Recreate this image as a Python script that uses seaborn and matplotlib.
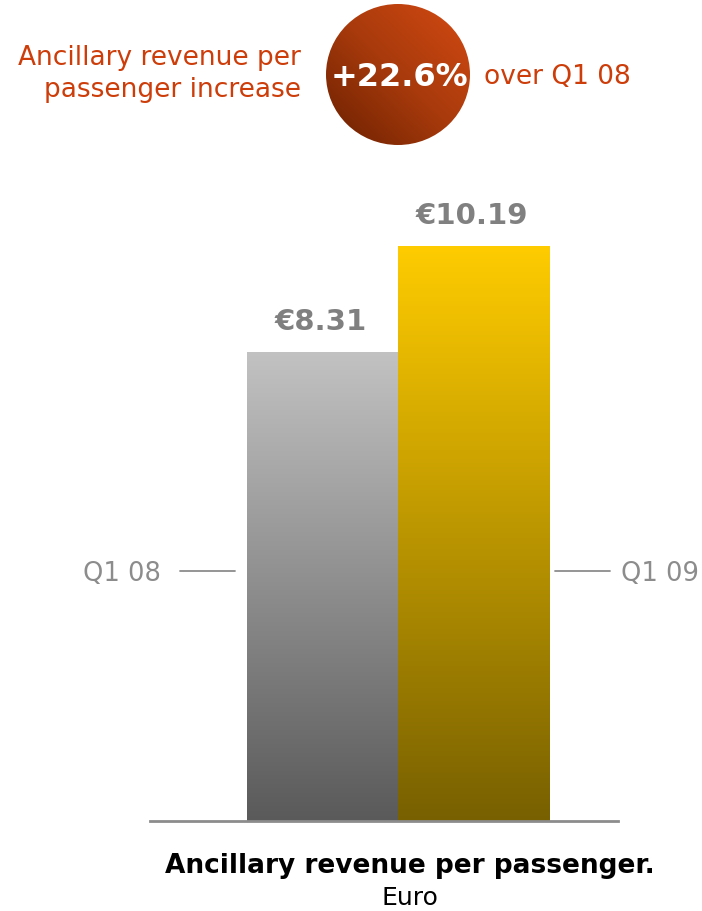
import numpy as np
import pandas as pd
import matplotlib
matplotlib.use("Agg")
import matplotlib.pyplot as plt
import seaborn as sns
from matplotlib.patches import Ellipse
from matplotlib.colors import LinearSegmentedColormap

categories = ["Q1 08", "Q1 09"]
values = [8.31, 10.19]
value_labels = ["€8.31", "€10.19"]
headline_left = "Ancillary revenue per\npassenger increase"
headline_value = "+22.6%"
headline_right = "over Q1 08"
chart_title = "Ancillary revenue per passenger."
chart_subtitle = "Euro"

sns.set_theme(style="white")
plt.rcParams['font.family'] = ['DejaVu Sans']

W, H = 702, 912
fig = plt.figure(figsize=(W / 100, H / 100), dpi=100)

def fx(px):
    return px / W

def fy(py):
    return 1 - py / H

# main axes: x 150..618, baseline at y=822, top at 201 (ylim 11)
ax = fig.add_axes([fx(150), fy(822), fx(618) - fx(150), (822 - 201) / H])
df = pd.DataFrame({"cat": categories, "val": values})
sns.barplot(data=df, x="cat", y="val", ax=ax, width=1.0, color="gray")
ax.set_xlim(-1.142, 1.957)
ax.set_ylim(0, 11)

grads = [("#c2c2c2", "#5a5a5a"), ("#ffcc00", "#786000")]
for patch, (ctop, cbot) in zip(ax.patches, grads):
    x0 = patch.get_x()
    w = patch.get_width()
    h = patch.get_height()
    cmap = LinearSegmentedColormap.from_list("g", [cbot, ctop])
    grad = np.linspace(0, 1, 256).reshape(-1, 1)
    im = ax.imshow(grad, extent=[x0, x0 + w, 0, h], origin="lower", cmap=cmap,
                   aspect="auto", zorder=2)
    im.set_clip_path(patch)
    patch.set_facecolor("none")
    patch.set_edgecolor("none")
ax.set_xlim(-1.142, 1.957)
ax.set_ylim(0, 11)

for i, (v, lab) in enumerate(zip(values, value_labels)):
    ax.text(i - 0.01, v + 0.3, lab, ha="center", va="bottom", fontsize=21,
            fontweight="bold", color="#808080")

for s in ["top", "left", "right"]:
    ax.spines[s].set_visible(False)
ax.spines["bottom"].set_color("#8c8c8c")
ax.spines["bottom"].set_linewidth(2)
ax.spines["bottom"].set_zorder(5)
ax.set_xticks([])
ax.set_yticks([])
ax.set_xlabel("")
ax.set_ylabel("")

# category labels with leader lines
lab_y = 574
fig.text(fx(161), fy(lab_y), categories[0], ha="right", va="center",
         fontsize=18.5, color="#8c8c8c")
fig.add_artist(plt.Line2D([fx(180), fx(235)], [fy(572), fy(572)],
                          color="#8c8c8c", lw=1.3))
fig.text(fx(621), fy(lab_y), categories[1], ha="left", va="center",
         fontsize=18.5, color="#8c8c8c")
fig.add_artist(plt.Line2D([fx(555), fx(610)], [fy(572), fy(572)],
                          color="#8c8c8c", lw=1.3))

# headline
orange = "#cc3d0a"
fig.text(fx(301), fy(74), headline_left, ha="right", va="center",
         fontsize=19, color=orange, linespacing=1.3)
fig.text(fx(484), fy(77), headline_right, ha="left", va="center",
         fontsize=19, color=orange)

cax = fig.add_axes([fx(326), fy(146), (470 - 326) / W, (146 - 5) / H])
cax.set_xlim(0, 1)
cax.set_ylim(0, 1)
cax.axis("off")
gx, gy = np.meshgrid(np.linspace(0, 1, 200), np.linspace(0, 1, 200))
t = (gx + gy) / 2
ccmap = LinearSegmentedColormap.from_list("c", ["#6a2000", "#a83a0c", "#d44a12"])
cim = cax.imshow(t, extent=[0, 1, 0, 1], origin="lower", cmap=ccmap, aspect="auto")
ell = Ellipse((0.5, 0.5), 1.0, 1.0, transform=cax.transAxes, facecolor="none",
              edgecolor="none")
cax.add_patch(ell)
cim.set_clip_path(ell)
fig.text(fx(399), fy(77), headline_value, ha="center", va="center", fontsize=23,
         fontweight="bold", color="white")

# bottom titles
fig.text(fx(410), fy(866), chart_title, ha="center", va="center", fontsize=19,
         fontweight="bold", color="black")
fig.text(fx(410), fy(898), chart_subtitle, ha="center", va="center", fontsize=18,
         color="black")

fig.savefig("out.png", dpi=100)
